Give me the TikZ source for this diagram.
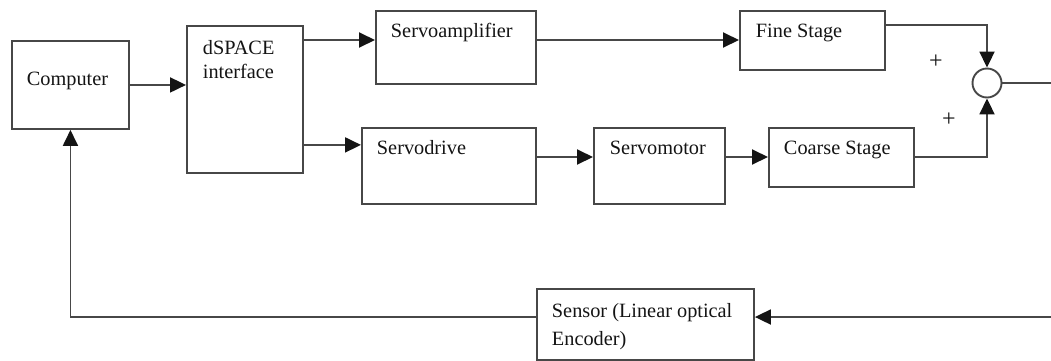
\documentclass[tikz,border=0pt]{standalone}
\usepackage{fontspec}
\setmainfont{Liberation Serif}
\usetikzlibrary{arrows.meta,calc}
\begin{document}
\begin{tikzpicture}[x=1pt,y=-1pt,
  line width=1.9pt, draw=black!72,
  box/.style={draw, rectangle, inner sep=0pt, anchor=north west},
  lbl/.style={inner sep=0pt, anchor=base west, font=\fontsize{20.3}{24}\selectfont, text=black!92},
  lbl2/.style={inner sep=0pt, anchor=north west, align=left, text=black!92},
  sign/.style={inner sep=0pt, font=\fontsize{24}{24}\selectfont, text=black!92},
  arr/.style={-{Triangle[length=16pt,width=15pt,color=black!92]}}]
\useasboundingbox (0,0) rectangle (1051,360);

% blocks
\node[box, minimum width=117pt, minimum height=88pt]  (comp)   at (11,40)   {};
\node[box, minimum width=116pt, minimum height=147pt] (dspace) at (186,25)  {};
\node[box, minimum width=160pt, minimum height=73pt]  (samp)   at (375,10)  {};
\node[box, minimum width=174pt, minimum height=76pt]  (sdrive) at (361,127) {};
\node[box, minimum width=131pt, minimum height=76pt]  (smotor) at (593,127) {};
\node[box, minimum width=145pt, minimum height=59pt]  (fine)   at (739,10)  {};
\node[box, minimum width=145pt, minimum height=59pt]  (coarse) at (768,127) {};
\node[box, minimum width=217pt, minimum height=71pt]  (sensor) at (536,288) {};
\node[draw, circle, minimum size=29pt, inner sep=0pt] (sum) at (987,83) {};

% block texts
\node[lbl] (tcomp)   at (26,85)   {Computer};
\node[lbl2, font=\fontsize{20.3}{24}\selectfont] (tdspace) at (202,39.5) {dSPACE\\interface};
\node[lbl] (tsamp)   at (390,37)  {Servoamplifier};
\node[lbl] (tsdrive) at (376,154) {Servodrive};
\node[lbl] (tsmotor) at (609,154) {Servomotor};
\node[lbl] (tfine)   at (755,37)  {Fine Stage};
\node[lbl] (tcoarse) at (783,154) {Coarse Stage};
\node[lbl2, font=\fontsize{20.3}{28}\selectfont] (tsensor) at (551,302) {Sensor (Linear optical\\Encoder)};

% signs at the summing junction
\node[sign] (p1) at (936,62)  {+};
\node[sign] (p2) at (949,120) {+};

% free ends of the output and feedback lines
\coordinate (out) at (1051,83);
\coordinate (fb)  at (1051,317);

% forward path
\draw[arr] (comp.east) -- (comp.east -| dspace.west);
\draw[arr] ([yshift=-15pt]dspace.north east) coordinate (d1) -- (d1 -| samp.west);
\draw[arr] ([yshift=29pt]dspace.south east) coordinate (d2) -- (d2 -| sdrive.west);
\draw[arr] ([yshift=-30pt]samp.north east) coordinate (s1) -- (s1 -| fine.west);
\draw[arr] ([yshift=-30pt]sdrive.north east) coordinate (s2) -- (s2 -| smotor.west);
\draw[arr] ([yshift=-30pt]smotor.north east) coordinate (s3) -- (s3 -| coarse.west);
\draw[arr] ([yshift=-15pt]fine.north east) -| (sum.north);
\draw[arr] ([yshift=-30pt]coarse.north east) -| (sum.south);
\draw (sum.east) -- (out);

% feedback path
\draw[arr] (fb) -- (fb -| sensor.east);
\draw[arr] (fb -| sensor.west) -- (fb -| comp.south) -- (comp.south);
\end{tikzpicture}
\end{document}
